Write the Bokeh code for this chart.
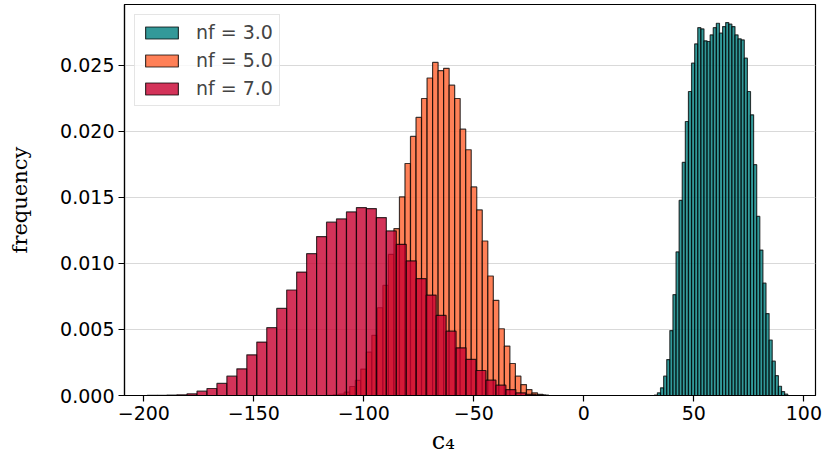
from bokeh.plotting import figure
from bokeh.models import Range1d, FixedTicker, NumeralTickFormatter, CustomJSTickFormatter, ColumnDataSource
from bokeh.embed import file_html
from bokeh.resources import INLINE

# ---- data (histogram densities) ----
series_labels = ["nf = 3.0", "nf = 5.0", "nf = 7.0"]

teal_start = 32.04
teal_width = 1.41
teal_freq = [0.00003, 0.0002, 0.00058, 0.00146, 0.00272, 0.00491, 0.00763, 0.01086,
             0.01476, 0.01763, 0.02073, 0.023, 0.02514, 0.0266, 0.02783, 0.02773,
             0.02683, 0.02678, 0.02728, 0.02783, 0.02816, 0.02741, 0.02791, 0.02821,
             0.02809, 0.02791, 0.02728, 0.02698, 0.0269, 0.02552, 0.023, 0.02123,
             0.01746, 0.01355, 0.0110, 0.0085, 0.0062, 0.0042, 0.0026, 0.0015,
             0.0007, 0.0003, 0.0001]

orange_start = -116.45
orange_width = 2.51
orange_freq = [0.00002, 0.00004, 0.0001, 0.00025, 0.00068, 0.00114, 0.002, 0.00328,
               0.00455, 0.00664, 0.00833, 0.01068, 0.01263, 0.01503, 0.01755, 0.0196,
               0.02104, 0.02247, 0.02402, 0.0252, 0.02457, 0.02475, 0.02348, 0.02247,
               0.02015, 0.01859, 0.01578, 0.01404, 0.01169, 0.00904, 0.0072, 0.00505,
               0.00374, 0.00242, 0.00146, 0.00083, 0.00045, 0.0002, 0.00008, 0.00003]

red_start = -198.5
red_width = 4.53
red_freq = [0.00001, 0.00002, 0.00003, 0.00005, 0.00013, 0.00033, 0.00053, 0.00091,
            0.00146, 0.00202, 0.00308, 0.00404, 0.00513, 0.00659, 0.00798, 0.00934,
            0.01073, 0.01202, 0.01311, 0.01336, 0.01389, 0.01422, 0.01414, 0.01346,
            0.01245, 0.01144, 0.01018, 0.00884, 0.0076, 0.00606, 0.00487, 0.00361,
            0.00273, 0.00189, 0.00116, 0.00078, 0.00045, 0.0002, 0.00008, 0.00003]

x_ticks = [-200, -150, -100, -50, 0, 50, 100]
y_ticks = [0.0, 0.005, 0.010, 0.015, 0.020, 0.025]
x_label_text = "c\u2084"
y_label_text = "frequency"

# ---- figure ----
p = figure(width=824, height=461, output_backend="svg", toolbar_location=None,
           x_range=Range1d(-208.8, 105.3), y_range=Range1d(0, 0.02958),
           min_border_left=124, min_border_right=9, min_border_top=4, min_border_bottom=66)
p.background_fill_color = "white"
p.border_fill_color = "white"
p.outline_line_color = "black"
p.outline_line_width = 1.2

def hist_source(start, width, freq):
    left = [start + i * width for i in range(len(freq))]
    right = [l + width for l in left]
    return ColumnDataSource(dict(left=left, right=right, top=freq, bottom=[0] * len(freq)))

styles = [
    (teal_start, teal_width, teal_freq, "#008080", 0.8),
    (orange_start, orange_width, orange_freq, "#ff6a3a", 0.85),
    (red_start, red_width, red_freq, "#c80030", 0.8),
]
for (start, width, freq, color, alpha), label in zip(styles, series_labels):
    src = hist_source(start, width, freq)
    p.quad(left="left", right="right", top="top", bottom="bottom", source=src,
           fill_color=color, fill_alpha=alpha, line_color="black", line_alpha=0.75,
           line_width=1.2, legend_label=label)

# ---- axes ----
p.xaxis.ticker = FixedTicker(ticks=x_ticks)
p.yaxis.ticker = FixedTicker(ticks=y_ticks)
p.yaxis.formatter = NumeralTickFormatter(format="0.000")
p.xaxis.formatter = CustomJSTickFormatter(code="return tick < 0 ? '\u2212' + Math.abs(tick) : String(tick);")
for ax in (p.xaxis, p.yaxis):
    ax.major_label_text_font = "DejaVu Sans"
    ax.major_label_text_font_size = "19px"
    ax.major_label_text_color = "black"
    ax.major_tick_out = 6
    ax.major_tick_in = 0
    ax.major_tick_line_color = "black"
    ax.major_tick_line_width = 1.2
    ax.minor_tick_line_color = None
    ax.axis_line_color = "black"
    ax.axis_line_width = 1.2
    ax.axis_label_text_font = "DejaVu Serif"
    ax.axis_label_text_font_style = "normal"
    ax.axis_label_text_color = "black"
p.yaxis.axis_label_text_font_size = "21px"
p.xaxis.axis_label_text_font_size = "24px"
# trailing no-break spaces shift the centred label left, as in the reference
p.xaxis.axis_label = x_label_text + "\u00a0" * 7
p.yaxis.axis_label = y_label_text
p.xaxis.major_label_standoff = 4
p.yaxis.major_label_standoff = 4
p.xaxis.axis_label_standoff = 4
p.yaxis.axis_label_standoff = 25

p.xgrid.grid_line_color = None
p.ygrid.grid_line_color = "#d9d9d9"
p.ygrid.grid_line_width = 1.2

# ---- legend ----
leg = p.legend[0]
leg.location = "top_left"
leg.margin = 10
leg.padding = 6
leg.spacing = 6
leg.glyph_width = 41
leg.glyph_height = 15
leg.label_height = 20
leg.label_standoff = 14
leg.label_text_font = "DejaVu Sans"
leg.label_text_font_size = "19px"
leg.border_line_color = "#cccccc"
leg.border_line_width = 1.2
leg.background_fill_alpha = 0.8

open("out.html", "w").write(file_html(p, INLINE))
